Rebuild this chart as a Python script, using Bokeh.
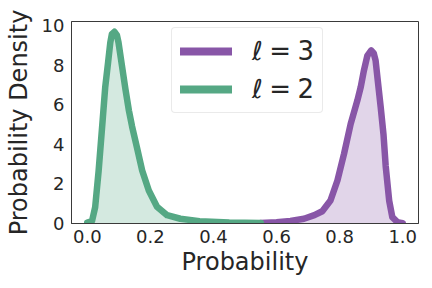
from bokeh.plotting import figure
from bokeh.models import Legend, LegendItem, FixedTicker, PrintfTickFormatter
from bokeh.embed import file_html
from bokeh.resources import INLINE

# ℓ = 2 density (green)
green_x = [0.0, 0.015, 0.025, 0.036, 0.049, 0.057, 0.066, 0.073, 0.078, 0.086,
           0.094, 0.099, 0.110, 0.121, 0.132, 0.142, 0.158, 0.174, 0.195, 0.221,
           0.253, 0.295, 0.356, 0.45, 0.55]
green_y = [0.05, 0.12, 0.82, 2.66, 5.27, 6.9, 8.13, 9.14, 9.56, 9.68,
           9.51, 9.14, 7.96, 6.78, 5.7, 4.9, 3.8, 2.68, 1.67, 0.85,
           0.42, 0.24, 0.12, 0.05, 0.03]

# ℓ = 3 density (purple)
purple_x = [0.55, 0.60, 0.644, 0.687, 0.72, 0.745, 0.771, 0.793, 0.814, 0.835,
            0.856, 0.867, 0.877, 0.888, 0.900, 0.908, 0.914, 0.921, 0.930, 0.939,
            0.946, 0.957, 0.967, 0.983, 1.0]
purple_y = [0.02, 0.06, 0.13, 0.24, 0.42, 0.62, 1.16, 2.17, 3.52, 5.03,
            6.2, 6.9, 7.73, 8.48, 8.74, 8.6, 8.23, 7.2, 5.9, 4.5,
            2.9, 1.16, 0.32, 0.07, 0.02]

x_ticks = [0.0, 0.2, 0.4, 0.6, 0.8, 1.0]
y_ticks = [0, 2, 4, 6, 8, 10]
series_labels = ["ℓ\u2005=\u20053", "ℓ\u2005=\u20052"]
x_label = "Probability"
y_label = "Probability Density"

PURPLE = "#8856a7"
GREEN = "#55a884"
TEXT = "#262626"
FONT = "DejaVu Sans"

p = figure(width=432, height=288, x_range=(-0.05, 1.05), y_range=(0, 10.2),
           output_backend="svg", toolbar_location=None,
           min_border_left=71, min_border_right=14, min_border_top=21,
           min_border_bottom=65)

p.varea(x=purple_x, y1=0, y2=purple_y, fill_color=PURPLE, fill_alpha=0.25)
p.line(purple_x, purple_y, line_color=PURPLE, line_width=6.5,
       line_join="round", line_cap="round")
p.varea(x=green_x, y1=0, y2=green_y, fill_color=GREEN, fill_alpha=0.25)
p.line(green_x, green_y, line_color=GREEN, line_width=6.5,
       line_join="round", line_cap="round")

# legend-only renderers (thicker strokes, hidden in the plot)
l3 = p.line(purple_x, purple_y, line_color=PURPLE, line_width=8,
            line_cap="round", visible=False)
l2 = p.line(green_x, green_y, line_color=GREEN, line_width=8,
            line_cap="round", visible=False)

p.xgrid.visible = False
p.ygrid.visible = False
p.outline_line_color = "#3a3a3a"
p.outline_line_width = 1
p.background_fill_color = "white"
p.border_fill_color = "white"

p.xaxis.ticker = FixedTicker(ticks=x_ticks)
p.yaxis.ticker = FixedTicker(ticks=y_ticks)
p.xaxis.formatter = PrintfTickFormatter(format="%.1f")
p.yaxis.formatter = PrintfTickFormatter(format="%d")
for ax in (p.xaxis, p.yaxis):
    ax.major_tick_out = 0
    ax.major_tick_in = 0
    ax.minor_tick_out = 0
    ax.minor_tick_in = 0
    ax.axis_line_color = "#3a3a3a"
    ax.major_label_text_font = FONT
    ax.major_label_text_font_size = "18px"
    ax.major_label_text_color = TEXT
    ax.axis_label_text_font = FONT
    ax.axis_label_text_font_size = "24px"
    ax.axis_label_text_font_style = "normal"
    ax.axis_label_text_color = TEXT
p.xaxis.axis_label = x_label
p.yaxis.axis_label = y_label
p.xaxis.major_label_standoff = 6
p.yaxis.major_label_standoff = 7
p.xaxis.axis_label_standoff = 2
p.yaxis.axis_label_standoff = 6

legend = Legend(items=[LegendItem(label=series_labels[0], renderers=[l3]),
                       LegendItem(label=series_labels[1], renderers=[l2])],
                location=(100, 110), click_policy="none")
legend.label_text_font = FONT
legend.label_text_font_size = "26px"
legend.label_text_color = TEXT
legend.glyph_width = 52
legend.glyph_height = 28
legend.label_height = 28
legend.label_standoff = 20
legend.spacing = 8
legend.padding = 8
legend.margin = 0
legend.border_line_color = "#d6d6d6"
legend.border_line_width = 1
legend.background_fill_color = "white"
legend.background_fill_alpha = 0.8
try:
    legend.border_radius = 4
except Exception:
    pass
p.add_layout(legend)

open("out.html", "w").write(file_html(p, INLINE))
